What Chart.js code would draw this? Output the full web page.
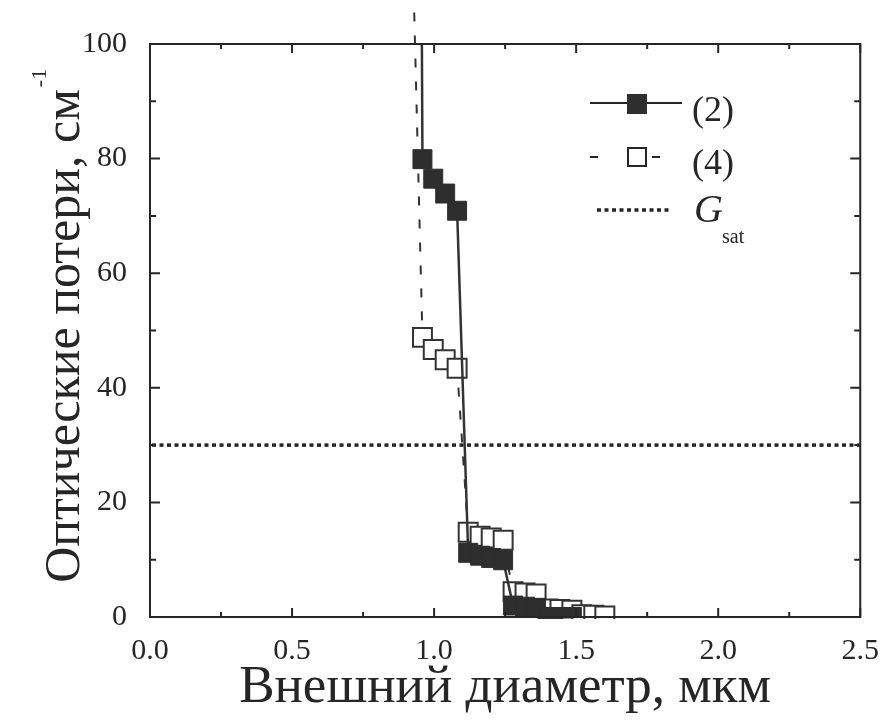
<!DOCTYPE html>
<html>
<head>
<meta charset="utf-8">
<script src="https://cdn.jsdelivr.net/npm/chart.js@4.4.1/dist/chart.umd.min.js"></script>
<style>
  body { margin: 0; background: #fff; }
  canvas { display: block; }
</style>
</head>
<body>
<canvas id="losses" width="887" height="728"></canvas>
<script>
// Sample (2): diameter in µm and optical loss in cm^-1
const diameter2 = [0.957, 0.959, 0.997, 1.039, 1.081, 1.120, 1.162, 1.201, 1.243, 1.278, 1.320, 1.359, 1.401, 1.443, 1.485]
const loss2 = [100, 79.9, 76.5, 73.9, 70.9, 11.2, 10.7, 10.3, 9.9, 2.0, 1.8, 1.6, 0, 0, 0]

// Sample (4)
const diameter4 = [0.930, 0.959, 0.997, 1.039, 1.081, 1.120, 1.162, 1.201, 1.243, 1.278, 1.320, 1.359, 1.401, 1.443, 1.485, 1.520, 1.562, 1.601]
const loss4 = [105.5, 48.8, 46.7, 44.9, 43.4, 14.8, 14.1, 13.8, 13.4, 4.4, 4.2, 4.0, 1.4, 1.3, 1.2, 0.4, 0.3, 0.2]

// Saturated gain level
const gSat = 30

const xTicks = [0, 0.5, 1.0, 1.5, 2.0, 2.5]
const yTicks = [0, 20, 40, 60, 80, 100]

const ink = "#262626"
const serif = "'Liberation Serif', 'DejaVu Serif', serif"

const toPoints = (xs, ys) => xs.map((x, i) => ({ x: x, y: ys[i] }))

// the first point of each curve only starts the line, it has no marker
const markerRadius = (ctx) => (ctx.dataIndex === 0 ? 0 : 13.4)

const drawDots = (ctx, x0, x1, y) => {
  for (let x = x0; x < x1; x += 7.5) {
    ctx.fillRect(x, y - 1.75, 4, 3.5)
  }
}

// frame with inward major/minor ticks on all four sides, titles, legend, G_sat level
const framePlugin = {
  id: "frame",
  beforeDraw(chart) {
    const { ctx } = chart
    ctx.save()
    ctx.fillStyle = ink

    // y axis title with superscript
    ctx.translate(52, 336)
    ctx.rotate(-Math.PI / 2)
    ctx.font = `50px ${serif}`
    const title = "Оптические потери, см"
    const w = ctx.measureText(title).width
    ctx.textBaseline = "middle"
    ctx.textAlign = "left"
    ctx.fillText(title, -w / 2, 14)
    ctx.font = `22px ${serif}`
    ctx.fillText("-1", w / 2 + 2, -12)
    ctx.restore()
  },
  afterDatasetsDraw(chart) {
    const { ctx, chartArea: a, scales } = chart
    ctx.save()
    ctx.strokeStyle = ink
    ctx.lineWidth = 2
    ctx.strokeRect(a.left, a.top, a.right - a.left, a.bottom - a.top)

    for (let v = 0; v <= 2.5001; v += 0.25) {
      const px = scales.x.getPixelForValue(v)
      const len = Math.abs(v / 0.5 - Math.round(v / 0.5)) < 1e-6 ? 9 : 5
      ctx.beginPath()
      ctx.moveTo(px, a.bottom)
      ctx.lineTo(px, a.bottom - len)
      ctx.moveTo(px, a.top)
      ctx.lineTo(px, a.top + len)
      ctx.stroke()
    }
    for (let v = 0; v <= 100; v += 10) {
      const py = scales.y.getPixelForValue(v)
      const len = v % 20 === 0 ? 10 : 6
      ctx.beginPath()
      ctx.moveTo(a.left, py)
      ctx.lineTo(a.left + len, py)
      ctx.moveTo(a.right, py)
      ctx.lineTo(a.right - len, py)
      ctx.stroke()
    }

    // legend
    ctx.fillStyle = ink
    ctx.beginPath()
    ctx.moveTo(590, 103)
    ctx.lineTo(627, 103)
    ctx.moveTo(647, 103)
    ctx.lineTo(682, 103)
    ctx.stroke()
    ctx.fillStyle = "#2e2e2e"
    ctx.fillRect(627, 94, 20, 20)

    ctx.beginPath()
    ctx.moveTo(590, 157)
    ctx.lineTo(598, 157)
    ctx.moveTo(652, 157)
    ctx.lineTo(660, 157)
    ctx.stroke()
    ctx.fillStyle = "#fff"
    ctx.fillRect(628, 148, 18, 18)
    ctx.strokeRect(628, 148, 18, 18)

    ctx.fillStyle = ink
    drawDots(ctx, 597, 672, 210)

    ctx.textBaseline = "alphabetic"
    ctx.textAlign = "left"
    ctx.font = `36px ${serif}`
    ctx.fillText("(2)", 692, 121)
    ctx.fillText("(4)", 692, 174)
    ctx.font = `italic 40px ${serif}`
    ctx.fillText("G", 694, 222)
    ctx.font = `20px ${serif}`
    ctx.fillText("sat", 722, 243)
    ctx.restore()
  },
  afterDraw(chart) {
    const { ctx, chartArea: a, scales } = chart
    ctx.save()
    ctx.fillStyle = ink
    drawDots(ctx, a.left + 2, a.right - 2, scales.y.getPixelForValue(gSat))
    ctx.restore()
  }
}

new Chart(document.getElementById("losses"), {
  type: "scatter",
  data: {
    datasets: [
      {
        label: "(2)",
        data: toPoints(diameter2, loss2),
        showLine: true,
        borderColor: "#333",
        borderWidth: 2.5,
        pointStyle: "rect",
        pointRadius: markerRadius,
        pointBackgroundColor: "#2e2e2e",
        pointBorderColor: "#2e2e2e",
        pointBorderWidth: 1
      },
      {
        label: "(4)",
        data: toPoints(diameter4, loss4),
        showLine: true,
        clip: { left: 0, right: 0, top: false, bottom: 2 },
        borderColor: "#333",
        borderWidth: 2,
        borderDash: [9, 14],
        pointStyle: "rect",
        pointRadius: markerRadius,
        pointBackgroundColor: "#fff",
        pointBorderColor: "#333",
        pointBorderWidth: 2
      }
    ]
  },
  options: {
    responsive: false,
    animation: false,
    layout: {
      padding: { left: 0, right: 25, top: 44, bottom: 0 }
    },
    plugins: {
      legend: { display: false },
      tooltip: { enabled: false }
    },
    scales: {
      x: {
        type: "linear",
        min: 0,
        max: 2.5,
        afterFit: (scale) => { scale.height = 111 },
        afterBuildTicks: (scale) => { scale.ticks = xTicks.map((v) => ({ value: v })) },
        grid: { display: false },
        border: { display: false },
        ticks: {
          padding: 8,
          color: ink,
          font: { family: serif, size: 30 },
          callback: (v) => v.toFixed(1)
        },
        title: {
          display: true,
          text: "Внешний диаметр, мкм",
          color: ink,
          font: { family: serif, size: 53 },
          padding: { top: 0, bottom: 8 }
        }
      },
      y: {
        min: 0,
        max: 100,
        afterFit: (scale) => { scale.width = 150 },
        afterBuildTicks: (scale) => { scale.ticks = yTicks.map((v) => ({ value: v })) },
        grid: { display: false },
        border: { display: false },
        ticks: {
          padding: 15,
          color: ink,
          font: { family: serif, size: 30 }
        }
      }
    }
  },
  plugins: [framePlugin]
})
</script>
</body>
</html>
